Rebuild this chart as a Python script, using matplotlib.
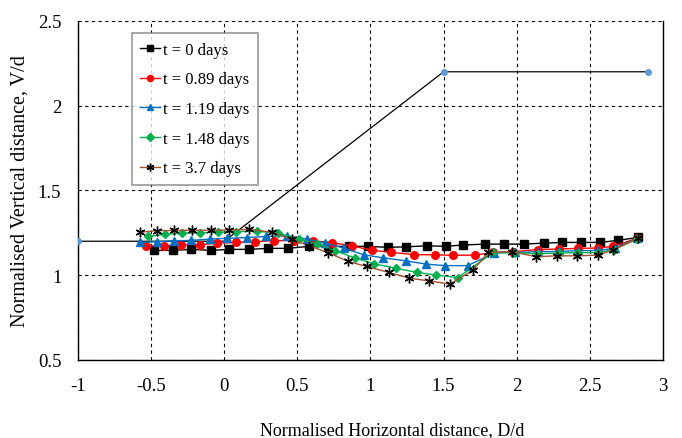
import matplotlib
matplotlib.use("Agg")
import matplotlib.pyplot as plt

plt.rcParams["font.family"] = ["Liberation Serif", "DejaVu Serif"]

# ---------------- data ----------------
# geometry outline
geo_x = [-1.0, 0.0, 1.5, 2.9]
geo_y = [1.2, 1.2, 2.2, 2.2]

# t = 0 days
x0 = [-0.479, -0.351, -0.226, -0.091, 0.034, 0.171, 0.301, 0.436, 0.583, 0.711,
      0.850, 0.980, 1.117, 1.244, 1.388, 1.516, 1.636, 1.785, 1.915, 2.047,
      2.188, 2.313, 2.439, 2.571, 2.692, 2.833]
y0 = [1.146, 1.146, 1.152, 1.146, 1.152, 1.152, 1.158, 1.158, 1.170, 1.169,
      1.170, 1.170, 1.164, 1.167, 1.173, 1.170, 1.178, 1.183, 1.183, 1.183,
      1.189, 1.193, 1.193, 1.193, 1.205, 1.223]

# t = 0.89 days
x1 = [-0.533, -0.410, -0.294, -0.166, -0.048, 0.077, 0.207, 0.337, 0.479, 0.609,
      0.738, 0.873, 1.009, 1.142, 1.301, 1.443, 1.566, 1.713, 1.841, 1.974,
      2.149, 2.286, 2.418, 2.555, 2.662, 2.822]
y1 = [1.173, 1.173, 1.180, 1.180, 1.188, 1.193, 1.197, 1.204, 1.204, 1.203,
      1.191, 1.173, 1.147, 1.134, 1.121, 1.120, 1.117, 1.118, 1.134, 1.138,
      1.151, 1.154, 1.158, 1.160, 1.170, 1.217]

# t = 1.19 days
x2 = [-0.574, -0.458, -0.342, -0.226, -0.099, 0.021, 0.155, 0.289, 0.426, 0.565,
      0.691, 0.821, 0.954, 1.089, 1.244, 1.381, 1.513, 1.664, 1.846, 1.990,
      2.149, 2.286, 2.418, 2.555, 2.669, 2.824]
y2 = [1.193, 1.197, 1.203, 1.205, 1.213, 1.217, 1.222, 1.228, 1.233, 1.213,
      1.189, 1.159, 1.120, 1.102, 1.084, 1.065, 1.056, 1.056, 1.130, 1.134,
      1.138, 1.140, 1.144, 1.146, 1.158, 1.217]

# t = 1.48 days
x3 = [-0.524, -0.408, -0.292, -0.166, -0.041, 0.082, 0.221, 0.371, 0.511, 0.634,
      0.759, 0.892, 1.024, 1.176, 1.320, 1.446, 1.597, 1.841, 1.983,
      2.149, 2.286, 2.418, 2.555, 2.667, 2.824]
y3 = [1.229, 1.240, 1.247, 1.250, 1.253, 1.256, 1.260, 1.247, 1.213, 1.183,
      1.144, 1.102, 1.067, 1.040, 1.016, 1.001, 0.985, 1.134, 1.133,
      1.127, 1.130, 1.133, 1.133, 1.151, 1.216]

# t = 3.7 days
x4 = [-0.578, -0.463, -0.342, -0.219, -0.091, 0.034, 0.171, 0.326, 0.463, 0.583,
      0.713, 0.844, 0.973, 1.126, 1.265, 1.402, 1.545, 1.701, 1.807, 1.967,
      2.133, 2.275, 2.412, 2.555, 2.662, 2.833]
y4 = [1.253, 1.262, 1.264, 1.265, 1.265, 1.266, 1.270, 1.253, 1.211, 1.172,
      1.132, 1.082, 1.051, 1.016, 0.982, 0.966, 0.947, 1.030, 1.134, 1.138,
      1.109, 1.114, 1.114, 1.118, 1.150, 1.217]

labels = ["t = 0 days", "t = 0.89 days", "t = 1.19 days", "t = 1.48 days", "t = 3.7 days"]
xticks = [-1, -0.5, 0, 0.5, 1, 1.5, 2, 2.5, 3]
xtick_labels = ["-1", "-0.5", "0", "0.5", "1", "1.5", "2", "2.5", "3"]
yticks = [0.5, 1, 1.5, 2, 2.5]
ytick_labels = ["0.5", "1", "1.5", "2", "2.5"]

# ---------------- figure ----------------
fig = plt.figure(figsize=(6.82, 4.39), dpi=100)
ax = fig.add_axes([0.1144, 0.178, 0.8576, 0.772])

ax.plot(geo_x, geo_y, color="black", lw=0.9, zorder=2)
ax.plot([geo_x[0], geo_x[2], geo_x[3]], [geo_y[0], geo_y[2], geo_y[3]], ls="none",
        marker="o", ms=4, color="#5B9BD5", zorder=3)

ax.plot(x0, y0, color="black", lw=1.0, marker="s", ms=5.5, label=labels[0], zorder=4)
ax.plot(x1, y1, color="#FF0000", lw=1.0, marker="o", ms=5.5, label=labels[1], zorder=4)
ax.plot(x2, y2, color="#0070C0", lw=1.0, marker="^", ms=6, label=labels[2], zorder=4)
ax.plot(x3, y3, color="#00B050", lw=1.0, marker="D", ms=4.5, label=labels[3], zorder=4)
ax.plot(x4, y4, color="#A0522D", lw=1.0, marker=(6, 2, 0), ms=7, mec="black",
        mew=1.0, label=labels[4], zorder=4)

ax.set_xlim(-1, 3)
ax.set_ylim(0.5, 2.5)
ax.set_xticks(xticks)
ax.set_xticklabels(xtick_labels)
ax.set_yticks(yticks)
ax.set_yticklabels(ytick_labels)
ax.tick_params(length=0, labelsize=13.5, pad=12)

ax.grid(True, ls=(0, (3, 3)), color="black", lw=0.8)
ax.spines["top"].set_visible(False)
for s in ["left", "right", "bottom"]:
    ax.spines[s].set_linewidth(1.0)

ax.set_xlabel("Normalised Horizontal distance, D/d", fontsize=13)
ax.xaxis.set_label_coords(0.537, -0.182)
ax.set_ylabel("Normalised Vertical distance, V/d", fontsize=14.5, labelpad=6)

leg = ax.legend(loc="upper left", bbox_to_anchor=(0.092, 0.963), fontsize=12,
                frameon=True, fancybox=False, edgecolor="#7F7F7F",
                handlelength=1.2, handletextpad=0.2, labelspacing=0.82,
                borderpad=0.5, borderaxespad=0, markerscale=0.8)
leg.get_frame().set_linewidth(1.2)

fig.savefig("out.png", dpi=100)
